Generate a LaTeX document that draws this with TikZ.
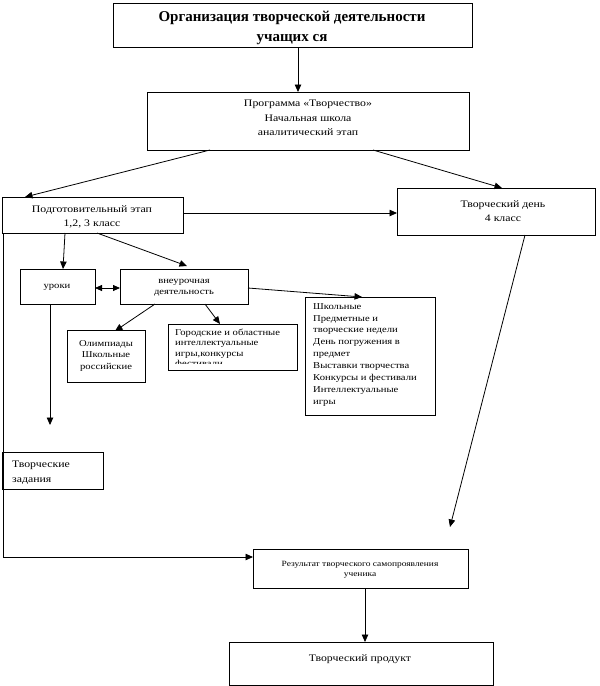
\documentclass[tikz,border=0pt]{standalone}
\usepackage{fontspec}
\setmainfont{Liberation Serif}
\newfontfamily\widefont[FakeStretch=1.18]{Liberation Serif}
\usetikzlibrary{arrows.meta,calc}
\begin{document}
\begin{tikzpicture}[x=1pt,y=-1pt,
  box/.style={draw, line width=0.8pt, inner sep=0pt, outer sep=0pt},
  ln/.style={line width=0.8pt},
  arr/.style={line width=0.8pt, -{Triangle[length=7.5pt,width=6.5pt]}},
  dbl/.style={line width=0.8pt, {Triangle[length=7pt,width=6pt]}-{Triangle[length=7pt,width=6pt]}},
  txt/.style={inner sep=0pt, align=center, anchor=north, font=\widefont\fontsize{10}{14.5}\selectfont},
  stxt/.style={inner sep=0pt, align=left, anchor=north west, font=\widefont\fontsize{9}{11.9}\selectfont},
  ttl/.style={inner sep=0pt, align=center, anchor=north, font=\bfseries\fontsize{15}{20}\selectfont}]
\useasboundingbox (0,0) rectangle (600,686);
% boxes
\node[box, minimum width=359pt, minimum height=44pt] (T) at (292.5,25) {};
\node[box, minimum width=322pt, minimum height=58pt] (P) at (308,121) {};
\node[box, minimum width=181pt, minimum height=36pt] (Pod) at (92.5,215) {};
\node[box, minimum width=198pt, minimum height=47pt] (TD) at (496,211.5) {};
\node[box, minimum width=75pt, minimum height=35pt] (U) at (57.5,286.5) {};
\node[box, minimum width=128pt, minimum height=35pt] (V) at (184,286.5) {};
\node[box, minimum width=78pt, minimum height=52pt] (O) at (106,356) {};
\node[box, minimum width=129pt, minimum height=46pt] (G) at (232.5,347) {};
\node[box, minimum width=130pt, minimum height=118pt] (S) at (370,356) {};
\node[box, minimum width=101pt, minimum height=37pt] (Z) at (52.5,470.5) {};
\node[box, minimum width=215pt, minimum height=39pt] (R) at (360.5,568.5) {};
\node[box, minimum width=264pt, minimum height=43pt] (TP) at (361,663.5) {};
% texts
\node[ttl] (Tt) at (292,11) {Организация творческой деятельности\\учащих ся};
\node[txt] (Pt) at (308,100) {Программа «Творчество»\\Начальная школа\\аналитический этап};
\node[txt] (Podt) at (92,205) {Подготовительный этап\\1,2, 3 класс};
\node[txt] (TDt) at (503,200) {Творческий день\\4 класс};
\node[txt, font=\widefont\fontsize{9}{11}\selectfont] (Ut) at (57,284) {уроки};
\node[txt, font=\widefont\fontsize{9}{11}\selectfont] (Vt) at (184,279) {внеурочная\\деятельность};
\node[txt, font=\widefont\fontsize{9}{11.5}\selectfont] (Ot) at (106,340) {Олимпиады\\Школьные\\российские};
\begin{scope}
\clip (G.north west) rectangle ([yshift=7pt]G.south east);
\node[stxt, font=\widefont\fontsize{9}{10.2}\selectfont] (Gt) at (175,329) {Городские и областные\\интеллектуальные\\игры,конкурсы\\фестивали};
\end{scope}
\node[stxt] (St) at (313,303) {Школьные\\Предметные и\\творческие недели\\День погружения в\\предмет\\Выставки творчества\\Конкурсы и фестивали\\Интеллектуальные\\игры};
\node[stxt, font=\widefont\fontsize{10}{15}\selectfont] (Zt) at (12,461) {Творческие\\задания};
\node[txt, font=\widefont\fontsize{8}{10}\selectfont] (Rt) at (360,561) {Результат творческого самопроявления\\ученика};
\node[txt] (TPt) at (360,654) {Творческий продукт};
% connectors
\draw[arr] (T.south -| 298,0) -- (P.north -| 298,0);
\draw[arr] ([xshift=63pt]P.south west) -- ([xshift=23pt]Pod.north west);
\draw[arr] ([xshift=226pt]P.south west) -- ([xshift=105pt]TD.north west);
\draw[arr] (Pod.east |- 0,213) -- (TD.west |- 0,213);
\draw[arr] ([xshift=63pt]Pod.south west) -- (U.north -| 63,0);
\draw[arr] ([xshift=95pt]Pod.south west) -- ([xshift=67pt,yshift=3pt]V.north west);
\draw[dbl] (U.east |- 0,288) -- (V.west |- 0,288);
\draw[arr] (V.east |- 0,288) -- ([xshift=57pt]S.north west);
\draw[arr] ([xshift=35pt]V.south west) -- ([xshift=48pt,yshift=-1pt]O.north west);
\draw[arr] ([xshift=85pt]V.south west) -- ([xshift=52pt]G.north west);
\coordinate (Uend) at (50,425);
\draw[arr] (U.south -| Uend) -- (Uend);
\coordinate (Lcorner) at (3,557);
\draw[arr] ([xshift=1pt]Pod.south west) -- (Lcorner) -- (R.west |- Lcorner);
\coordinate (TDend) at (450,527);
\draw[arr] ([xshift=128pt]TD.south west) -- (TDend);
\draw[arr] (R.south -| 365,0) -- (TP.north -| 365,0);
\end{tikzpicture}
\end{document}
